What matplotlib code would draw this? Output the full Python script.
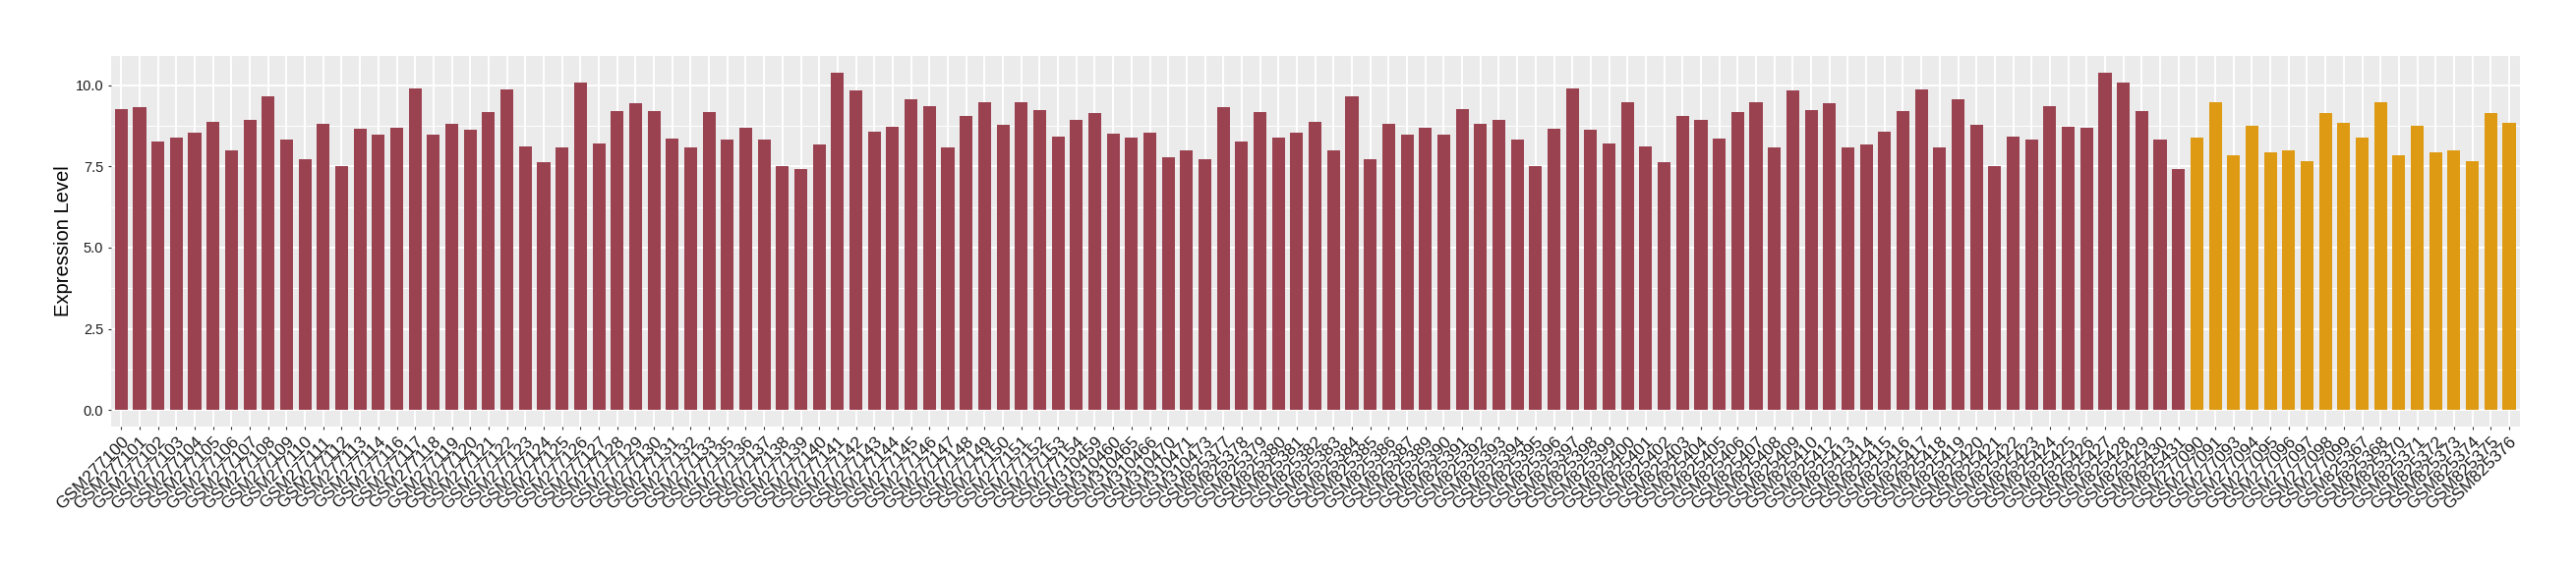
import numpy as np
import matplotlib
matplotlib.use("Agg")
import matplotlib.pyplot as plt
from matplotlib.ticker import MultipleLocator


# sample ids, group 1 (maroon)
ids_a = (["GSM2771%02d" % i for i in list(range(0, 15)) + list(range(16, 34)) + list(range(35, 55))]
         + ["GSM310459", "GSM310460", "GSM310465", "GSM310466", "GSM310470", "GSM310471", "GSM310473"]
         + ["GSM8253%02d" % i for i in list(range(77, 88))]
         + ["GSM825%03d" % i for i in list(range(389, 411)) + list(range(412, 432))])

vals_a = [9.26, 9.33, 8.28, 8.40, 8.55, 8.88, 7.99, 8.93, 9.65, 8.34,
          7.71, 8.82, 7.50, 8.67, 8.49, 8.70, 9.89, 8.49, 8.82, 8.64,
          9.17, 9.86, 8.11, 7.62, 8.08, 10.07, 8.22, 9.20, 9.45, 9.20,
          8.37, 8.08, 9.17, 8.34, 8.70, 8.34, 7.50, 7.42, 8.19, 10.39,
          9.83, 8.58, 8.73, 9.57, 9.36, 8.08, 9.05, 9.48, 8.79, 9.48,
          9.23, 8.43, 8.93,
          9.14, 8.52, 8.40, 8.55, 7.77, 7.99, 7.71,
          9.33, 8.28, 9.17, 8.40, 8.55, 8.88, 7.99, 9.65, 7.71, 8.82, 8.49,
          8.70, 8.49, 9.26, 8.82, 8.93, 8.34, 7.50, 8.67, 9.89, 8.64,
          8.22, 9.48, 8.11, 7.62, 9.05, 8.93, 8.37, 9.17, 9.48, 8.08,
          9.83, 9.23,
          9.45, 8.08, 8.19, 8.58, 9.20, 9.86, 8.08, 9.57, 8.79, 7.50,
          8.43, 8.34, 9.36, 8.73, 8.70, 10.39, 10.07, 9.20, 8.34, 7.42]

# group 2 (orange)
ids_b = ["GSM277090", "GSM277091", "GSM277093", "GSM277094", "GSM277095",
         "GSM277096", "GSM277097", "GSM277098", "GSM277099",
         "GSM825367", "GSM825368", "GSM825370", "GSM825371", "GSM825372",
         "GSM825373", "GSM825374", "GSM825375", "GSM825376"]
vals_b = [8.40, 9.48, 7.83, 8.76, 7.93, 7.99, 7.65, 9.14, 8.85,
          8.40, 9.48, 7.83, 8.76, 7.93, 7.99, 7.65, 9.14, 8.85]

col_a = "#9B4251"
col_b = "#DE9A13"

labels = ids_a + ids_b
values = vals_a + vals_b
colors = [col_a] * len(vals_a) + [col_b] * len(vals_b)
x = np.arange(len(labels))

plt.rcParams["font.family"] = ["Liberation Sans", "DejaVu Sans"]

fig = plt.figure(figsize=(26.2, 5.8), dpi=100)
ax = fig.add_axes([0.0430, 0.2512, 0.9351, 0.6510])
ax.set_facecolor("#EBEBEB")
ax.set_axisbelow(True)

ax.bar(x, values, width=0.7, color=colors, zorder=2)

ax.set_xlim(-0.57, len(labels) - 1 + 0.57)
ax.set_ylim(-0.52, 10.91)
ax.yaxis.set_minor_locator(MultipleLocator(1.25))
ax.set_yticks(np.arange(0, 10.1, 2.5))
ax.set_yticklabels(["%.1f" % v for v in np.arange(0, 10.1, 2.5)])

ax.grid(which="major", color="white", linewidth=1.4)
ax.grid(which="minor", axis="y", color="white", linewidth=0.7)

ax.set_xticks(x)
ax.set_xticklabels(labels, rotation=45, ha="right", va="top",
                   rotation_mode="anchor", fontsize=12.5, color="#1a1a1a")
ax.tick_params(axis="both", which="major", length=2.5, width=0.8,
               color="#333333", labelcolor="#1a1a1a", pad=3)
ax.tick_params(axis="y", labelsize=10.5)
ax.tick_params(axis="y", which="minor", length=0)

for s in ax.spines.values():
    s.set_visible(False)

ax.set_ylabel("Expression Level", fontsize=14.5, color="black", labelpad=2)

fig.savefig("out.png", dpi=100, facecolor="white")
